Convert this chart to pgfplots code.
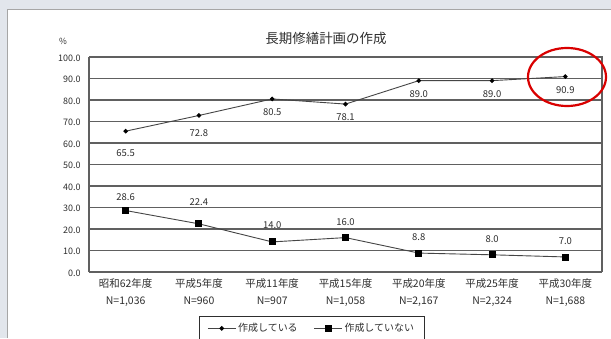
\documentclass[border=0pt]{standalone}
\usepackage{pgfplots}
\pgfplotsset{compat=1.18}
\usepackage{fontspec}
\setmainfont{Noto Sans CJK JP}
\definecolor{txt}{HTML}{2E2E2E}
\definecolor{ln}{HTML}{454545}
\definecolor{gridc}{HTML}{606060}
\begin{document}
\begin{tikzpicture}[x=1bp,y=1bp]
\useasboundingbox (0,0) rectangle (611,338);
\fill[fill={rgb,255:red,226;green,230;blue,236}] (0,0) rectangle (611,338);
\fill[white] (7,0) rectangle (611,328);
\draw[gray!70,line width=1bp] (7,0) -- (7,328) -- (611,328);
\node[text=txt,font=\fontsize{13.5}{15}\selectfont] at (326,300) {長期修繕計画の作成};
\node[text=txt,font=\fontsize{8.5}{9}\selectfont] at (63,297) {\%};
\begin{axis}[
  at={(89bp,66bp)}, anchor=south west,
  width=513bp, height=215bp, scale only axis,
  xmin=-0.5, xmax=6.5, ymin=0, ymax=100,
  ytick={0,10,...,100},
  /pgf/number format/assume math mode=true,
  yticklabel={\pgfmathprintnumber[fixed,fixed zerofill,precision=1]{\tick}},
  yticklabel style={font=\fontsize{9}{10}\selectfont, text=txt, xshift=-5bp, yshift=-1bp},
  ymajorgrids, major grid style={gridc, line width=1.1bp},
  xtick={0,...,6},
  xticklabels={{昭和62年度\\N=1,036},{平成5年度\\N=960},{平成11年度\\N=907},{平成15年度\\N=1,058},{平成20年度\\N=2,167},{平成25年度\\N=2,324},{平成30年度\\N=1,688}},
  xticklabel style={font=\fontsize{10.5}{17}\selectfont, text=txt, align=center, yshift=-3bp},
  major x tick style={draw=none},
  extra x ticks={0.5,1.5,...,5.5},
  extra x tick labels={},
  extra x tick style={major tick length=5bp, tick style={gridc, line width=0.8bp}, xticklabel=\empty},
  ytick style={draw=none},
  axis line style={gridc, line width=1.1bp},
  axis y line*=left, axis x line*=bottom,
  clip=false,
  legend columns=2,
  legend image code/.code={\draw[mark repeat=2,mark phase=2,#1] plot coordinates {(0bp,0bp) (14bp,0bp) (28bp,0bp)};},
  legend style={at={(0.434,-0.2047)}, anchor=north, draw=txt, line width=0.8bp,
    font=\fontsize{10}{11}\selectfont, text=txt, /tikz/every even column/.append style={column sep=14bp},
    inner ysep=5bp, inner xsep=8bp},
  every node near coord/.append style={font=\fontsize{9.5}{10}\selectfont, text=txt, anchor=center, /pgf/number format/fixed, /pgf/number format/fixed zerofill, /pgf/number format/precision=1},
]
\addplot[ln, line width=0.9bp, mark=*, mark size=1.8bp, mark options={fill=black,draw=black}]
  coordinates {(0,65.5) (1,72.8) (2,80.5) (3,78.1) (4,89.0) (5,89.0) (6,90.9)};
\addlegendentry{作成している}
\addplot[ln, line width=0.9bp, mark=square*, mark size=3bp, mark options={fill=black,draw=black}]
  coordinates {(0,28.6) (1,22.4) (2,14.0) (3,16.0) (4,8.8) (5,8.0) (6,7.0)};
\addlegendentry{作成していない}
% data labels (same values), grouped by offset
\addplot[draw=none, mark=none, forget plot, nodes near coords, every node near coord/.append style={yshift=-22bp}] coordinates {(0,65.5)};
\addplot[draw=none, mark=none, forget plot, nodes near coords, every node near coord/.append style={yshift=-18bp}] coordinates {(1,72.8)};
\addplot[draw=none, mark=none, forget plot, nodes near coords, every node near coord/.append style={yshift=-13bp}] coordinates {(2,80.5) (3,78.1) (4,89.0) (5,89.0)};
\addplot[draw=none, mark=none, forget plot, nodes near coords, every node near coord/.append style={yshift=-14bp}] coordinates {(6,90.9)};
\addplot[draw=none, mark=none, forget plot, nodes near coords, every node near coord/.append style={yshift=13bp}] coordinates {(0,28.6)};
\addplot[draw=none, mark=none, forget plot, nodes near coords, every node near coord/.append style={yshift=22bp}] coordinates {(1,22.4)};
\addplot[draw=none, mark=none, forget plot, nodes near coords, every node near coord/.append style={yshift=17bp}] coordinates {(2,14.0)};
\addplot[draw=none, mark=none, forget plot, nodes near coords, every node near coord/.append style={yshift=15.5bp}] coordinates {(3,16.0) (4,8.8) (5,8.0) (6,7.0)};
\draw[gridc, line width=1.1bp] (rel axis cs:1,0) -- (rel axis cs:1,1) -- (rel axis cs:0,1);
\end{axis}
\draw[red!85!black, line width=2.2bp] (567,261) ellipse (39bp and 29bp);
\end{tikzpicture}
\end{document}
